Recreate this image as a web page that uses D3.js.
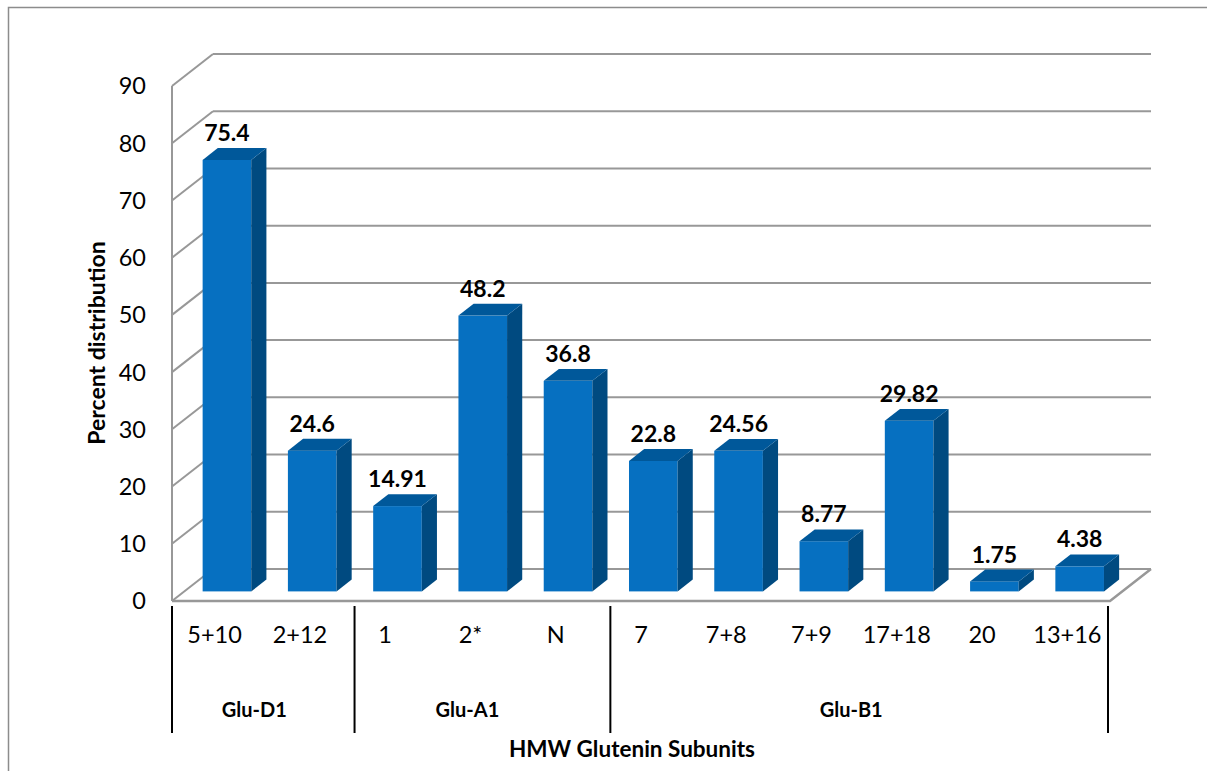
<!DOCTYPE html>
<html><head><meta charset="utf-8">
<script src="https://cdn.jsdelivr.net/npm/d3@7"></script>
<style>body{margin:0;background:#fff}svg{display:block}</style>
</head><body>
<svg id="c" width="1207" height="771"></svg>
<script>
const categories = ["5+10","2+12","1","2*","N","7","7+8","7+9","17+18","20","13+16"];
const values = [75.4,24.6,14.91,48.2,36.8,22.8,24.56,8.77,29.82,1.75,4.38];
const valueLabels = ["75.4","24.6","14.91","48.2","36.8","22.8","24.56","8.77","29.82","1.75","4.38"];
const groups = ["Glu-D1","Glu-A1","Glu-B1"];
const groupSizes = [2,3,6];
const yTicks = [0,10,20,30,40,50,60,70,80,90];
const yTitle = "Percent distribution";
const xTitle = "HMW Glutenin Subunits";

const svg = d3.select("#c");
const font = "Lato, 'Open Sans', sans-serif";
const x = d3.scaleBand().domain(categories).range([172,1110]).padding(0);
const y = d3.scaleLinear().domain([0,90]).range([601,86]);
const DX = 41, DY = -32; // depth projection at full depth
const gridColor = "#989898";

// outer border
svg.append("rect").attr("x",8.5).attr("y",7.5).attr("width",1240).attr("height",800)
  .attr("fill","none").attr("stroke","#8c8c8c").attr("stroke-width",1.5);

// back wall gridlines
const g = svg.append("g");
yTicks.forEach(v=>{
  g.append("line").attr("x1",172+DX).attr("x2",1110+DX).attr("y1",y(v)+DY).attr("y2",y(v)+DY)
    .attr("stroke",gridColor).attr("stroke-width",2);
  g.append("line").attr("x1",172).attr("x2",172+DX).attr("y1",y(v)).attr("y2",y(v)+DY)
    .attr("stroke",gridColor).attr("stroke-width",2);
});
g.append("line").attr("x1",172).attr("x2",172).attr("y1",y(90)).attr("y2",y(0))
  .attr("stroke",gridColor).attr("stroke-width",2);
g.append("path").attr("d",`M172,${y(0)}L1110,${y(0)}L${1110+DX},${y(0)+DY}`)
  .attr("fill","none").attr("stroke",gridColor).attr("stroke-width",2.5);

// tick labels
svg.append("g").selectAll("text").data(yTicks).join("text")
  .attr("x",146).attr("y",d=>y(d)).attr("dy","0.36em").attr("text-anchor","end")
  .attr("font-family",font).attr("font-size",23.5).attr("fill","#000").text(d=>d);

// bars
const d0 = 0.3, d1 = 0.67;
const bw = x.bandwidth()*0.57;
const bars = svg.append("g");
categories.forEach((c,i)=>{
  const cx = x(c)+x.bandwidth()/2;
  const x0 = cx - bw/2 + DX*d0, x1 = x0 + bw;
  const yb = y(0) + DY*d0, yt = y(values[i]) + DY*d0;
  const sdx = DX*(d1-d0), sdy = DY*(d1-d0);
  bars.append("rect").attr("x",x0).attr("y",yt).attr("width",bw).attr("height",yb-yt).attr("fill","#0670c1");
  bars.append("path").attr("d",`M${x1},${yt}L${x1},${yb}L${x1+sdx},${yb+sdy}L${x1+sdx},${yt+sdy}Z`).attr("fill","#004a80");
  bars.append("path").attr("d",`M${x0},${yt}L${x1},${yt}L${x1+sdx},${yt+sdy}L${x0+sdx},${yt+sdy}Z`).attr("fill","#00589a");
  bars.append("text").attr("x",(x0+x1)/2).attr("y",yt+sdy-7).attr("text-anchor","middle")
    .attr("font-family",font).attr("font-weight","bold").attr("font-size",23).text(valueLabels[i]);
});

// category labels
svg.append("g").selectAll("text").data(categories).join("text")
  .attr("x",d=>x(d)+x.bandwidth()/2).attr("y",643).attr("text-anchor","middle")
  .attr("font-family",font).attr("font-size",23.5).text(d=>d);

// group dividers and labels
let start = 0;
const divs = [172];
groups.forEach((gname,k)=>{
  const end = start + groupSizes[k];
  const xs = x(categories[start]), xe = x(categories[end-1]) + x.bandwidth();
  svg.append("text").attr("x",(xs+xe)/2 - 3).attr("y",717).attr("text-anchor","middle")
    .attr("font-family",font).attr("font-weight","bold").attr("font-size",20).text(gname);
  divs.push(k < groups.length-1 ? xe + 12 : xe - 2);
  start = end;
});
svg.append("g").selectAll("line").data(divs).join("line")
  .attr("x1",d=>d).attr("x2",d=>d).attr("y1",606).attr("y2",733)
  .attr("stroke","#000").attr("stroke-width",2);

// axis titles
svg.append("text").attr("x",632).attr("y",757).attr("text-anchor","middle")
  .attr("font-family",font).attr("font-weight","bold").attr("font-size",22.5).text(xTitle);
svg.append("text").attr("transform","translate(105,343) rotate(-90)").attr("text-anchor","middle")
  .attr("font-family",font).attr("font-weight","bold").attr("font-size",23).text(yTitle);
</script>
</body></html>
